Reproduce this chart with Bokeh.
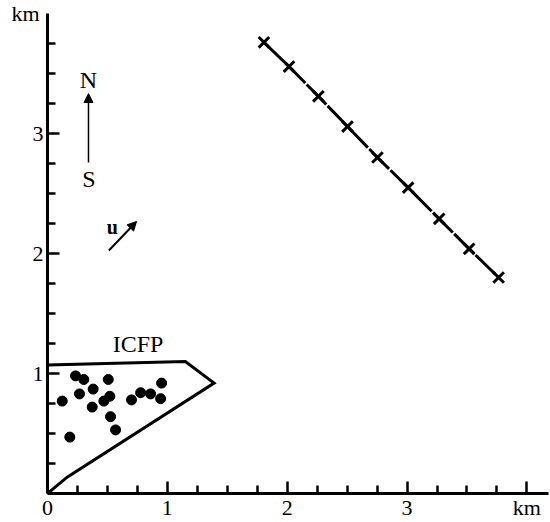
from bokeh.plotting import figure
from bokeh.models import Range1d, FixedTicker, Arrow, NormalHead, LinearAxis, CustomJSTickFormatter
from bokeh.core.properties import value
from bokeh.embed import file_html
from bokeh.resources import INLINE

# ---- data (km) ----
x_major_ticks = [0, 1, 2, 3, 4]
y_major_ticks = [1, 2, 3]
y_unit_tick = [4]
unit_label = "km"
minor_ticks = [0.25, 0.5, 0.75, 1.25, 1.5, 1.75, 2.25, 2.5, 2.75, 3.25, 3.5, 3.75]

icfp_x = [0.0, 0.0, 1.15, 1.39, 0.164, 0.0]
icfp_y = [0.0, 1.07, 1.10, 0.92, 0.136, 0.0]

dots_x = [0.123, 0.186, 0.234, 0.303, 0.267, 0.381, 0.373, 0.507, 0.520,
          0.470, 0.526, 0.568, 0.701, 0.777, 0.860, 0.944, 0.952]
dots_y = [0.77, 0.47, 0.98, 0.95, 0.83, 0.87, 0.72, 0.95, 0.81,
          0.77, 0.64, 0.53, 0.78, 0.84, 0.83, 0.79, 0.92]

line_x = [1.806, 2.015, 2.26, 2.503, 2.753, 3.009, 3.268, 3.518, 3.764]
line_y = [3.76, 3.558, 3.31, 3.058, 2.80, 2.549, 2.289, 2.039, 1.80]

ns_arrow = [0.342, 2.758, 0.342, 3.333]     # x0, y0, x1, y1
u_arrow = [0.512, 2.025, 0.743, 2.267]

labels_text = ["ICFP", "N", "S"]
labels_x = [0.756, 0.342, 0.345]
labels_y = [1.25, 3.45, 2.625]

u_text = ["u"]
u_x = [0.54]
u_y = [2.22]

FONT = "Liberation Serif"
AXIS_FONT = "'Liberation Serif', 'Times New Roman', serif"

p = figure(width=550, height=522, x_range=Range1d(0, 4.18), y_range=Range1d(0, 4),
           output_backend="svg", toolbar_location=None,
           min_border_left=47, min_border_right=2, min_border_top=13, min_border_bottom=29)
p.grid.visible = False
p.outline_line_color = None
p.background_fill_color = "white"
p.border_fill_color = "white"

fmt_code = "return tick >= 4 ? '%s' : tick.toFixed(0)" % unit_label

xa = p.xaxis[0]
ya = p.yaxis[0]
xa.ticker = FixedTicker(ticks=x_major_ticks, minor_ticks=minor_ticks)
ya.ticker = FixedTicker(ticks=y_major_ticks, minor_ticks=minor_ticks)
xa.formatter = CustomJSTickFormatter(code=fmt_code)
ya.formatter = CustomJSTickFormatter(code=fmt_code)

for ax in (xa, ya):
    ax.axis_line_width = 3
    ax.axis_line_color = "black"
    ax.major_tick_in = 12
    ax.major_tick_out = 0
    ax.minor_tick_in = 8
    ax.minor_tick_out = 0
    ax.major_tick_line_width = 2.5
    ax.minor_tick_line_width = 2.5
    ax.major_tick_line_color = "black"
    ax.minor_tick_line_color = "black"
    ax.major_label_text_font = AXIS_FONT
    ax.major_label_text_font_size = "22px"
    ax.major_label_text_color = "black"
    ax.major_label_standoff = 1
ya.major_label_standoff = 4

# outer y axis: only the unit label "km" at the top, no line, no ticks
ya2 = LinearAxis(ticker=FixedTicker(ticks=y_unit_tick), formatter=CustomJSTickFormatter(code=fmt_code),
                 axis_line_color=None, major_tick_line_color=None, minor_tick_line_color=None,
                 major_tick_in=0, major_tick_out=0, minor_tick_in=0, minor_tick_out=0,
                 major_label_text_font=AXIS_FONT, major_label_text_font_size="22px",
                 major_label_text_color="black", major_label_standoff=-10)
p.add_layout(ya2, "left")

# ICFP polygon
p.line(icfp_x, icfp_y, line_color="black", line_width=3, line_join="miter")
p.scatter(dots_x, dots_y, size=10, color="black")

# sampling line
p.line(line_x, line_y, line_color="black", line_width=3, line_dash="28 2")
p.scatter(line_x, line_y, marker="x", size=15, line_width=3, line_color="black")

# arrows
p.add_layout(Arrow(x_start=ns_arrow[0], y_start=ns_arrow[1], x_end=ns_arrow[2], y_end=ns_arrow[3],
                   line_width=1.5, line_color="black",
                   end=NormalHead(size=9, fill_color="black", line_color="black")))
p.add_layout(Arrow(x_start=u_arrow[0], y_start=u_arrow[1], x_end=u_arrow[2], y_end=u_arrow[3],
                   line_width=2, line_color="black",
                   end=NormalHead(size=9, fill_color="black", line_color="black")))

p.text(labels_x, labels_y, text=labels_text, text_font=value(FONT), text_font_size="24px",
       text_align="center", text_baseline="middle", text_color="black")
p.text(u_x, u_y, text=u_text, text_font=value(FONT), text_font_size="20px",
       text_font_style="bold", text_align="center", text_baseline="middle", text_color="black")

open("out.html", "w").write(file_html(p, INLINE))
